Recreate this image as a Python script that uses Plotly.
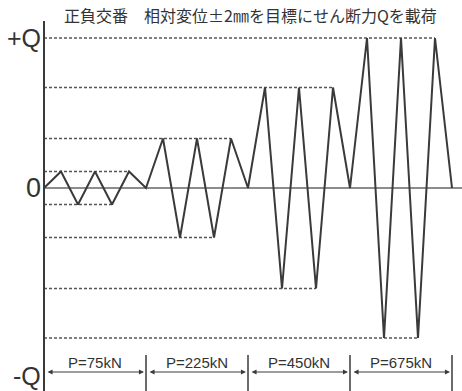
import plotly.graph_objects as go

# ---- data ----
step_index = list(range(25))
load_ratio = [0, 0.11, -0.11, 0.11, -0.11, 0.11, 0,
              0.33, -0.33, 0.33, -0.33, 0.33, 0,
              0.67, -0.67, 0.67, -0.67, 0.67, 0,
              1.0, -1.0, 1.0, -1.0, 1.0, 0]
stage_labels = ["P=75kN", "P=225kN", "P=450kN", "P=675kN"]
stage_bounds = [0, 6, 12, 18, 24]
y_tick_text = ["+Q", "0", "-Q"]
title_text = "正負交番　相対変位±2㎜を目標にせん断力Qを載荷"

# pixel mapping helpers (plot area = whole figure)
W, H = 462, 391
X0PX, XS = 44, 17.0
Y0PX, YS = 188, 150.0
xr = [(0 - X0PX) / XS, (W - X0PX) / XS]
yr = [(Y0PX - H) / YS, (Y0PX - 0) / YS]
def py(p):
    return (Y0PX - p) / YS

line_col = "#3a3a3a"
dash_col = "#555555"
fig = go.Figure()

# dashed reference levels: from axis to last point at that level
levels = sorted(set(v for v in load_ratio if v != 0))
shapes = []
for lv in levels:
    last = max(i for i, v in enumerate(load_ratio) if v == lv)
    shapes.append(dict(type="line", x0=0, x1=step_index[last], y0=lv, y1=lv,
                       line=dict(color=dash_col, width=1.6, dash="3px,2px"), layer="below"))
# zero line
shapes.append(dict(type="line", x0=0, x1=xr[1], y0=0, y1=0,
                   line=dict(color="#666666", width=1.6), layer="below"))
# vertical axis
shapes.append(dict(type="line", x0=0, x1=0, y0=py(21), y1=yr[0],
                   line=dict(color=line_col, width=2)))
# stage boundary ticks
for b in stage_bounds[1:]:
    shapes.append(dict(type="line", x0=b, x1=b, y0=py(355), y1=yr[0],
                       line=dict(color=line_col, width=1.5)))

fig.add_trace(go.Scatter(x=step_index, y=load_ratio, mode="lines",
                         line=dict(color=line_col, width=2), hoverinfo="skip",
                         showlegend=False))

ann = []
# dimension arrows and labels
ya = py(372)
for i, lab in enumerate(stage_labels):
    a, b = stage_bounds[i], stage_bounds[i + 1]
    ann.append(dict(x=b - 0.12, y=ya, ax=a + 0.12, ay=ya, xref="x", yref="y",
                    axref="x", ayref="y", text="", showarrow=True,
                    arrowhead=2, startarrowhead=2, arrowside="end+start",
                    arrowsize=1, startarrowsize=1, arrowwidth=1, arrowcolor=line_col))
    ann.append(dict(x=(a + b) / 2, y=py(362), xref="x", yref="y", text=lab,
                    showarrow=False,
                    font=dict(family="Liberation Sans Narrow, Arial Narrow, sans-serif",
                              size=15, color="#333333")))
# y labels
lab_font = dict(family="Liberation Sans Narrow, Arial Narrow, sans-serif", size=25, color="#333333")
ann.append(dict(x=(43 - X0PX) / XS, y=py(38), xref="x", yref="y", text=y_tick_text[0],
                showarrow=False, xanchor="right", font=lab_font))
ann.append(dict(x=(43 - X0PX) / XS, y=py(188), xref="x", yref="y", text=y_tick_text[1],
                showarrow=False, xanchor="right", font=dict(lab_font, size=27)))
ann.append(dict(x=(43 - X0PX) / XS, y=py(376), xref="x", yref="y", text=y_tick_text[2],
                showarrow=False, xanchor="right", font=lab_font))
# title
ann.append(dict(x=(250 - X0PX) / XS, y=py(15), xref="x", yref="y", text=title_text,
                showarrow=False,
                font=dict(family="Noto Sans CJK JP", size=16, color="#333333")))

fig.update_layout(
    width=W, height=H, margin=dict(l=0, r=0, t=0, b=0),
    paper_bgcolor="white", plot_bgcolor="white",
    xaxis=dict(range=xr, visible=False, fixedrange=True),
    yaxis=dict(range=yr, visible=False, fixedrange=True),
    shapes=shapes, annotations=ann, showlegend=False,
)
fig.write_html("out.html", config={"displayModeBar": False},
               post_script="document.body.style.margin='0';document.body.style.overflow='hidden';")
